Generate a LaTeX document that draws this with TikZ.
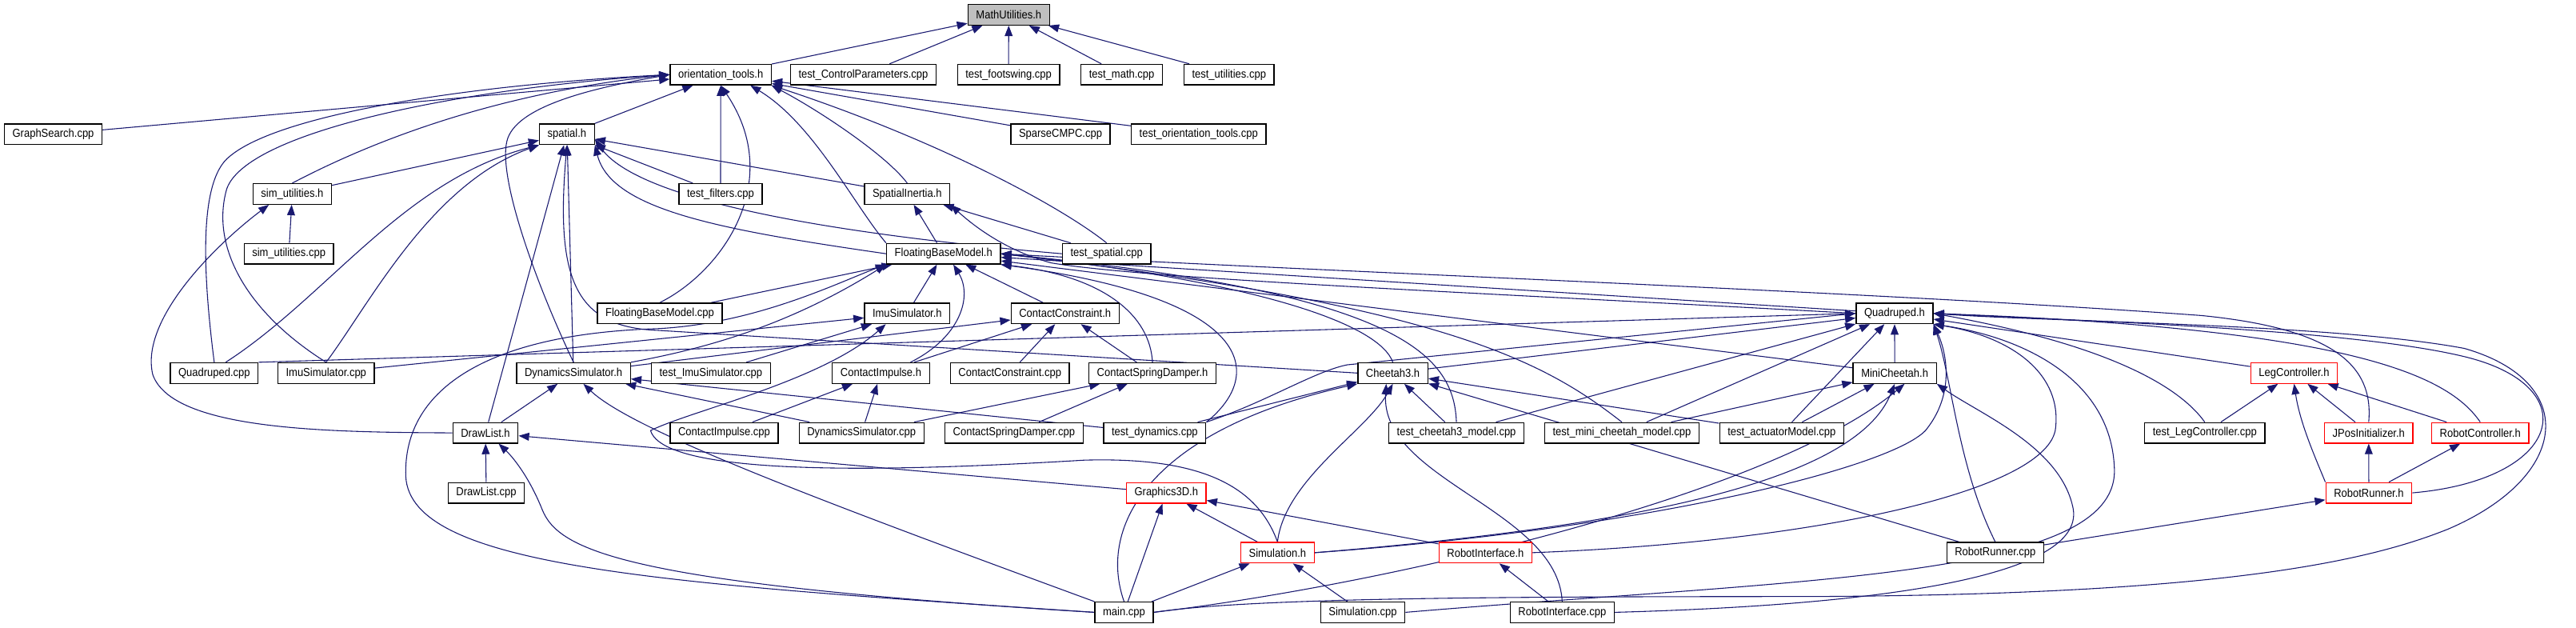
\documentclass[tikz,border=0pt]{standalone}
\usepackage{fontspec}
\newfontfamily\dotfont{Liberation Sans}[FakeStretch=0.9]
\usetikzlibrary{arrows.meta,backgrounds}
\definecolor{edgeblue}{RGB}{25,25,112}
\definecolor{rootgray}{RGB}{191,191,191}
\definecolor{linkred}{RGB}{255,0,0}
\tikzset{
  filebox/.style={draw=black, line width=0.9pt, fill=white,
                  font=\dotfont\fontsize{10}{12}\selectfont,
                  inner xsep=7pt, inner ysep=0pt, minimum height=0.625cm},
  rootfile/.style={filebox, fill=rootgray},
  redfile/.style ={filebox, draw=linkred},
  incl/.style    ={draw=edgeblue, line width=0.75pt,
                  -{Triangle[length=0.32cm,width=0.24cm]}},
}

\begin{document}
\begin{tikzpicture}[x=0.05cm,y=-0.05cm]
  \useasboundingbox (0,0) rectangle (1568,382);
  %% rows 0-4
  \node[rootfile] (math) at (614,9) {MathUtilities.h};
  \node[filebox] (orient) at (438.7,45.4) {orientation\_tools.h};
  \node[filebox] (tcp) at (525.5,45.4) {test\_ControlParameters.cpp};
  \node[filebox] (tfoot) at (613.9,45.4) {test\_footswing.cpp};
  \node[filebox] (tmath) at (682.8,45.4) {test\_math.cpp};
  \node[filebox] (tutil) at (748.1,45.4) {test\_utilities.cpp};
  \node[filebox] (gsearch) at (32.4,81.7) {GraphSearch.cpp};
  \node[filebox] (spatial) at (345.1,81.7) {spatial.h};
  \node[filebox] (cmpc) at (645.5,81.7) {SparseCMPC.cpp};
  \node[filebox] (torient) at (729.6,81.7) {test\_orientation\_tools.cpp};
  \node[filebox] (simuh) at (177.9,118) {sim\_utilities.h};
  \node[filebox] (tfilt) at (438.6,118) {test\_filters.cpp};
  \node[filebox] (inertia) at (552.2,118) {SpatialInertia.h};
  \node[filebox] (simucpp) at (175.8,154.4) {sim\_utilities.cpp};
  \node[filebox] (fbmh) at (574.3,154.4) {FloatingBaseModel.h};
  \node[filebox] (tspat) at (673.6,154.4) {test\_spatial.cpp};
  %% rows 5-7
  \node[filebox] (fbmcpp) at (401.6,190.7) {FloatingBaseModel.cpp};
  \node[filebox] (imuh) at (552.2,190.7) {ImuSimulator.h};
  \node[filebox] (cch) at (648.3,190.7) {ContactConstraint.h};
  \node[filebox] (quadh) at (1153.2,190.7) {Quadruped.h};
  \node[filebox] (quadcpp) at (130.4,227) {Quadruped.cpp};
  \node[filebox] (imucpp) at (198.5,227) {ImuSimulator.cpp};
  \node[filebox] (dynh) at (349.1,227) {DynamicsSimulator.h};
  \node[filebox] (timu) at (432.7,227) {test\_ImuSimulator.cpp};
  \node[filebox] (cih) at (536.2,227) {ContactImpulse.h};
  \node[filebox] (cccpp) at (614.7,227) {ContactConstraint.cpp};
  \node[filebox] (csdh) at (701.5,227) {ContactSpringDamper.h};
  \node[filebox] (ch3) at (847.8,227) {Cheetah3.h};
  \node[filebox] (mch) at (1153.3,227) {MiniCheetah.h};
  \node[redfile] (legh) at (1396.4,227) {LegController.h};
  \node[filebox] (drawh) at (295.5,263.4) {DrawList.h};
  \node[filebox] (cicpp) at (440.8,263.4) {ContactImpulse.cpp};
  \node[filebox] (dyncpp) at (524.4,263.4) {DynamicsSimulator.cpp};
  \node[filebox] (csdcpp) at (617.2,263.4) {ContactSpringDamper.cpp};
  \node[filebox] (tdyn) at (702.9,263.4) {test\_dynamics.cpp};
  \node[filebox] (tch3) at (886.5,263.4) {test\_cheetah3\_model.cpp};
  \node[filebox] (tmc) at (987.2,263.4) {test\_mini\_cheetah\_model.cpp};
  \node[filebox] (tact) at (1084.5,263.4) {test\_actuatorModel.cpp};
  \node[filebox] (tleg) at (1342,263.4) {test\_LegController.cpp};
  \node[redfile] (jpos) at (1441.8,263.4) {JPosInitializer.h};
  \node[redfile] (rctrl) at (1509.7,263.4) {RobotController.h};
  %% rows 8-10
  \node[filebox] (drawcpp) at (296,299.9) {DrawList.cpp};
  \node[redfile] (g3d) at (709.9,299.9) {Graphics3D.h};
  \node[redfile] (rrh) at (1441.9,299.9) {RobotRunner.h};
  \node[redfile] (simh) at (777.6,336.3) {Simulation.h};
  \node[redfile] (rih) at (904.2,336.3) {RobotInterface.h};
  \node[filebox] (rrcpp) at (1214.5,336.3) {RobotRunner.cpp};
  \node[filebox] (maincpp) at (684.2,372.6) {main.cpp};
  \node[filebox] (simcpp) at (829.5,372.6) {Simulation.cpp};
  \node[filebox] (ricpp) at (950.9,372.6) {RobotInterface.cpp};

  \begin{scope}[on background layer]
  %% MathUtilities.h
  \draw[incl] (orient) -- (math);
  \draw[incl] (tcp) -- (math);
  \draw[incl] (tfoot) -- (math);
  \draw[incl] (tmath) -- (math);
  \draw[incl] (tutil) -- (math);
  %% orientation_tools.h
  \draw[incl] (gsearch) -- (orient);
  \draw[incl] (spatial) -- (orient);
  \draw[incl] (cmpc) -- (orient);
  \draw[incl] (torient) -- (orient);
  \draw[incl] (tfilt) -- (orient);
  \draw[incl] (simuh.north) .. controls (215,92) and (290,58) .. (orient.west);
  \draw[incl] (quadcpp.north) .. controls (124,170) and (120,110) .. (140,95)
              .. controls (170,70) and (280,52) .. (orient.west);
  \draw[incl] (imucpp.north) .. controls (150,190) and (128,150) .. (138,115)
              .. controls (150,80) and (280,54) .. (orient.west);
  \draw[incl] (dynh.north) .. controls (325,170) and (300,100) .. (310,82)
              .. controls (320,62) and (370,52) .. (orient.west);
  \draw[incl] (fbmcpp.north) .. controls (440,165) and (478,110) .. (orient.south);
  \draw[incl] (fbmh.north west) .. controls (520,125) and (495,75) .. (orient.340);
  \draw[incl] (inertia.north) .. controls (540,95) and (500,68) .. (orient.348);
  \draw[incl] (tspat.north) .. controls (645,125) and (570,85) .. (orient.south east);
  %% spatial.h
  \draw[incl] (simuh) -- (spatial);
  \draw[incl] (tfilt) -- (spatial);
  \draw[incl] (inertia) -- (spatial);
  \draw[incl] (drawh) -- (spatial);
  \draw[incl] (dynh) -- (spatial);
  \draw[incl] ([xshift=0.35cm]quadcpp.north) .. controls (200,180) and (245,110) .. (spatial.south west);
  \draw[incl] (imucpp.north) .. controls (225,185) and (262,112) .. (spatial.south west);
  \draw[incl] (fbmh.west) .. controls (440,140) and (372,128) .. (spatial.south east);
  \draw[incl] (tspat.west) .. controls (480,140) and (385,118) .. (spatial.350);
  \draw[incl] (ch3.west) -- (400,201) .. controls (350,199) and (338,170) .. (spatial.south);
  %% SpatialInertia.h, sim_utilities.h
  \draw[incl] (fbmh) -- (inertia);
  \draw[incl] (tspat) -- (inertia);
  \draw[incl] (quadh.west) .. controls (900,178) and (700,170) .. (640,160)
              .. controls (610,152) and (590,135) .. (inertia.south east);
  \draw[incl] (simucpp) -- (simuh);
  \draw[incl] (drawh.west) .. controls (200,263) and (105,262) .. (93,228)
              .. controls (85,195) and (130,150) .. ([xshift=0.5cm]simuh.south west);
  %% FloatingBaseModel.h
  \draw[incl] (fbmcpp) -- (fbmh);
  \draw[incl] (imuh) -- (fbmh);
  \draw[incl] (cch) -- (fbmh);
  \draw[incl] (quadh) -- (fbmh);
  \draw[incl] (mch) -- (fbmh);
  \draw[incl] ([xshift=0.9cm]cih.north) .. controls (585,205) and (592,180) .. ([xshift=0.3cm]fbmh.south);
  \draw[incl] (csdh.north) .. controls (700,192) and (672,168) .. (fbmh.south east);
  \draw[incl] (dynh.north east) .. controls (430,212) and (480,198) .. (fbmh.south west);
  \draw[incl] (tdyn.north east) .. controls (770,228) and (765,182) .. (fbmh.south east);
  \draw[incl] (ch3.north) .. controls (840,198) and (770,172) .. (fbmh.east);
  \draw[incl] (tch3.north) .. controls (885,215) and (850,178) .. (fbmh.east);
  \draw[incl] (tmc.north) .. controls (940,220) and (880,186) .. (fbmh.east);
  \draw[incl] (jpos.north) .. controls (1445,222) and (1420,200) .. (1340,192)
              .. controls (1150,178) and (800,165) .. (fbmh.east);
  \draw[incl] (maincpp.west) .. controls (400,355) and (250,345) .. (247,290)
              .. controls (245,235) and (300,203) .. (400,200)
              .. controls (460,197) and (510,172) .. (fbmh.south west);
  %% ImuSimulator.h, ContactConstraint.h, ContactImpulse.h, ContactSpringDamper.h
  \draw[incl] (imucpp) -- (imuh);
  \draw[incl] (timu) -- (imuh);
  \draw[incl] (simh.north) .. controls (765,295) and (730,278) .. (660,280)
              .. controls (560,286) and (405,292) .. (396,262)
              .. controls (420,250) and (500,232) .. ([xshift=-0.65cm]imuh.south);
  \draw[incl] (cih) -- (cch);
  \draw[incl] (cccpp) -- (cch);
  \draw[incl] (csdh) -- (cch);
  \draw[incl] (dynh) -- (cch);
  \draw[incl] (cicpp) -- (cih);
  \draw[incl] (dyncpp) -- (cih);
  \draw[incl] (dyncpp) -- (csdh);
  \draw[incl] (csdcpp) -- (csdh);
  %% Quadruped.h
  \draw[incl] (quadcpp.north east) -- (quadh.west);
  \draw[incl] (ch3) -- (quadh);
  \draw[incl] (mch) -- (quadh);
  \draw[incl] (tch3) -- (quadh);
  \draw[incl] (tmc) -- (quadh);
  \draw[incl] (tact) -- (quadh);
  \draw[incl] (legh) -- (quadh);
  \draw[incl] (tdyn.north east) .. controls (770,245) and (800,226) .. (820,222) -- (quadh.west);
  \draw[incl] (tleg.north) .. controls (1330,240) and (1295,212) .. (quadh.east);
  \draw[incl] (rctrl.north) .. controls (1490,228) and (1430,200) .. (quadh.east);
  \draw[incl] (rrh.east) .. controls (1560,292) and (1575,235) .. (1500,217)
              .. controls (1430,200) and (1260,195) .. (quadh.east);
  \draw[incl] (rrcpp.north) .. controls (1192,285) and (1188,230) .. (quadh.south east);
  \draw[incl] (rih.east) .. controls (1100,330) and (1243,300) .. (1251,262)
              .. controls (1256,228) and (1225,205) .. (quadh.south east);
  \draw[incl] (simcpp.east) .. controls (1100,352) and (1290,352) .. (1287,285)
              .. controls (1285,230) and (1230,205) .. (quadh.south east);
  \draw[incl] (simh.east) .. controls (1000,322) and (1150,285) .. (1172,262)
              .. controls (1190,240) and (1185,215) .. (quadh.south east);
  \draw[incl] (maincpp.east) .. controls (760,364) and (900,363) .. (1100,363)
              .. controls (1350,362) and (1440,342) .. (1490,322)
              .. controls (1565,290) and (1570,232) .. (1500,212)
              .. controls (1420,197) and (1250,196) .. (quadh.east);
  %% Cheetah3.h, MiniCheetah.h
  \draw[incl] (tch3) -- (ch3);
  \draw[incl] (tact) -- (ch3);
  \draw[incl] (tdyn) -- (ch3);
  \draw[incl] (rrcpp) -- (ch3);
  \draw[incl] (maincpp.north) .. controls (668,320) and (700,262) .. (ch3.south west);
  \draw[incl] (simh.north) .. controls (782,292) and (832,262) .. (ch3.south);
  \draw[incl] (ricpp.north) .. controls (948,310) and (840,292) .. ([xshift=-0.2cm]ch3.south);
  \draw[incl] (tmc) -- (mch);
  \draw[incl] (tact) -- (mch);
  \draw[incl] (simh.east) .. controls (1000,320) and (1130,292) .. (mch.south);
  \draw[incl] (maincpp.east) .. controls (850,355) and (1080,300) .. ([xshift=0.3cm]mch.south);
  \draw[incl] (ricpp.east) .. controls (1150,368) and (1268,350) .. (1262,310)
              .. controls (1255,272) and (1205,252) .. (mch.south east);
  %% LegController.h and the robot runner
  \draw[incl] (tleg) -- (legh);
  \draw[incl] (jpos) -- (legh);
  \draw[incl] (rctrl) -- (legh);
  \draw[incl] (rrh.north west) .. controls (1410,280) and (1400,258) .. (legh.south);
  \draw[incl] (rrh) -- (jpos);
  \draw[incl] (rrh) -- (rctrl);
  \draw[incl] (rrcpp) -- (rrh);
  %% DrawList.h, DynamicsSimulator.h, Graphics3D.h, Simulation.h
  \draw[incl] (drawcpp) -- (drawh);
  \draw[incl] (g3d) -- (drawh);
  \draw[incl] (maincpp.west) .. controls (380,355) and (340,335) .. (330,310)
              .. controls (322,290) and (312,278) .. ([xshift=0.4cm]drawh.south);
  \draw[incl] (drawh) -- (dynh);
  \draw[incl] (maincpp.north west) .. controls (500,305) and (385,262) .. ([xshift=0.3cm]dynh.south);
  \draw[incl] (dyncpp) -- (dynh);
  \draw[incl] (tdyn) -- (dynh);
  \draw[incl] (maincpp) -- (g3d);
  \draw[incl] (simh) -- (g3d);
  \draw[incl] (rih) -- (g3d);
  \draw[incl] (maincpp) -- (simh);
  \draw[incl] (simcpp) -- (simh);
  \draw[incl] (ricpp) -- (rih);
  \end{scope}
\end{tikzpicture}
\end{document}
